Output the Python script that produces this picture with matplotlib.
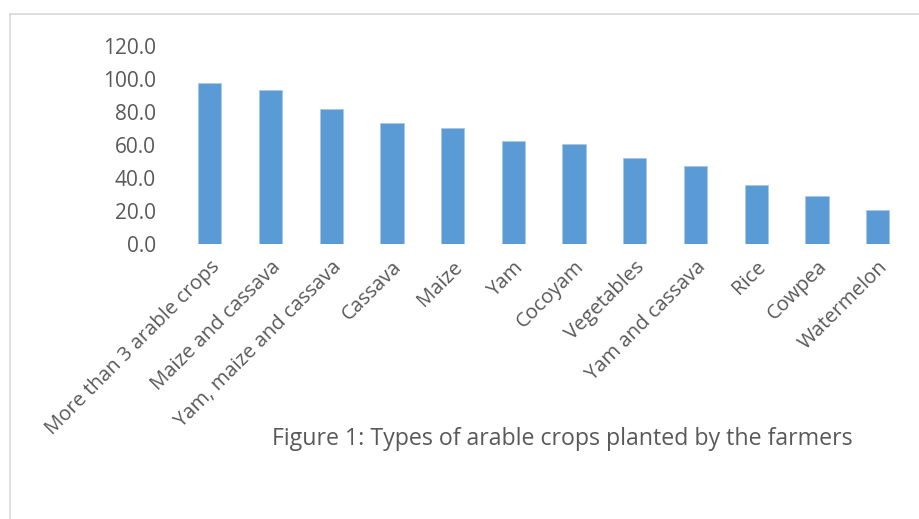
import matplotlib
matplotlib.use("Agg")
import matplotlib.pyplot as plt
from matplotlib.lines import Line2D

# -----------------------------
# Data
# -----------------------------
crops = [
    "More than 3 arable crops", "Maize and cassava", "Yam, maize and cassava",
    "Cassava", "Maize", "Yam", "Cocoyam", "Vegetables", "Yam and cassava",
    "Rice", "Cowpea", "Watermelon",
]
percent = [97.7, 93.2, 81.9, 73.5, 70.2, 62.9, 60.9, 52.4, 47.2, 35.9, 29.6, 20.9]
y_ticks = [0, 20, 40, 60, 80, 100, 120]
caption = "Figure 1: Types of arable crops planted by the farmers"

text_color = "#595959"
bar_color = "#5B9BD5"
plt.rcParams["font.family"] = ["Open Sans", "DejaVu Sans"]

fig = plt.figure(figsize=(9.2, 5.19), dpi=100)
ax = fig.add_axes([0.195, 0.529, 0.792, 0.382])

x = list(range(len(crops)))
ax.bar(x, percent, width=0.385, color=bar_color, edgecolor="#A9C8E8", linewidth=0.6)

ax.set_xlim(-0.5, len(crops) - 0.5)
ax.set_ylim(0, 120)
ax.set_yticks(y_ticks)
ax.set_yticklabels([f"{v:.1f}" for v in y_ticks], fontsize=15, color=text_color)
ax.set_xticks(x)
ax.set_xticklabels(crops, rotation=45, ha="right", rotation_mode="anchor",
                   fontsize=14.6, color=text_color)
ax.tick_params(axis="y", length=0, pad=17)
ax.tick_params(axis="x", length=0, pad=9)
for s in ax.spines.values():
    s.set_visible(False)

fig.text(0.296, 0.155, caption, fontsize=16.7, color=text_color, ha="left", va="center")

# light frame around the chart area (top and left edges visible)
fig.add_artist(Line2D([10 / 920, 10 / 920], [0, 1 - 13.5 / 519], color="#D9D9D9", linewidth=1.2))
fig.add_artist(Line2D([10 / 920, 1], [1 - 13.5 / 519, 1 - 13.5 / 519], color="#D9D9D9", linewidth=1.2))

plt.savefig("out.png", dpi=100)
